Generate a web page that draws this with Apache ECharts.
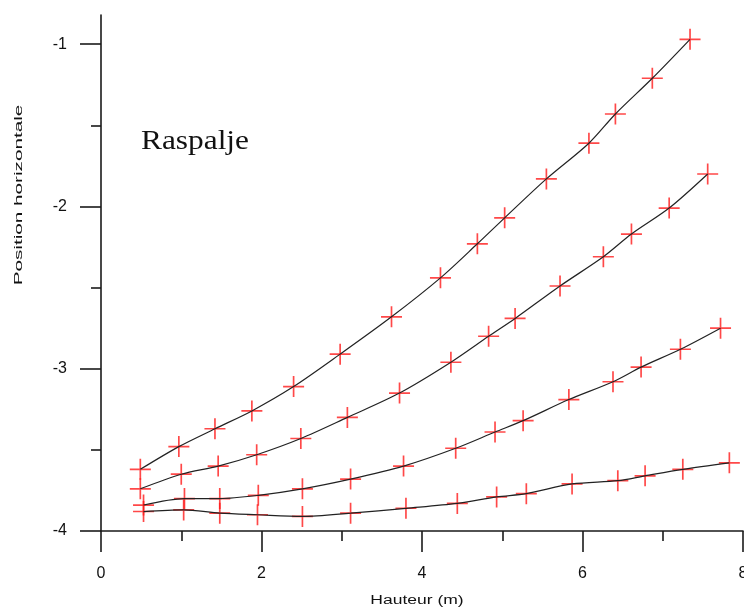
<!DOCTYPE html>
<html>
<head>
<meta charset="utf-8">
<title>Raspalje</title>
<script src="https://cdn.jsdelivr.net/npm/echarts@6/dist/echarts.min.js"></script>
<style>
  html, body { margin: 0; padding: 0; background: #ffffff; }
  #chart { width: 744px; height: 610px; }
</style>
</head>
<body>
<div id="chart"></div>
<script>
// Horizontal position against height (m), four profiles
const hauteurA = [0.49, 0.97, 1.42, 1.88, 2.40, 2.98, 3.62, 4.23, 4.69, 5.03, 5.55, 6.08, 6.41, 6.87, 7.34];
const positionA = [-3.62, -3.48, -3.37, -3.26, -3.11, -2.91, -2.68, -2.44, -2.23, -2.07, -1.83, -1.61, -1.43, -1.21, -0.97];

const hauteurB = [0.49, 1.00, 1.46, 1.94, 2.49, 3.07, 3.72, 4.36, 4.83, 5.16, 5.72, 6.26, 6.61, 7.08, 7.56];
const positionB = [-3.74, -3.65, -3.60, -3.53, -3.43, -3.30, -3.15, -2.96, -2.80, -2.69, -2.49, -2.31, -2.17, -2.01, -1.80];

const hauteurC = [0.53, 1.04, 1.48, 1.96, 2.51, 3.11, 3.77, 4.42, 4.91, 5.26, 5.83, 6.38, 6.73, 7.22, 7.72];
const positionC = [-3.84, -3.80, -3.80, -3.78, -3.74, -3.68, -3.60, -3.49, -3.39, -3.32, -3.19, -3.08, -2.99, -2.88, -2.75];

const hauteurD = [0.53, 1.03, 1.48, 1.95, 2.51, 3.11, 3.80, 4.44, 4.93, 5.30, 5.87, 6.44, 6.78, 7.25, 7.83];
const positionD = [-3.88, -3.87, -3.89, -3.90, -3.91, -3.89, -3.86, -3.83, -3.79, -3.77, -3.71, -3.69, -3.66, -3.62, -3.58];

const yMajorTicks = [-4, -3, -2, -1];
const yMinorTicks = [-3.5, -2.5, -1.5];

const profiles = [
  [hauteurA, positionA],
  [hauteurB, positionB],
  [hauteurC, positionC],
  [hauteurD, positionD]
];

const axisColor = '#1a1a1a';
const markColor = '#ff1a1a';
// "+" cross used as marker
const crossPath = 'path://M9.2 0h1.6v9.2h9.2v1.6h-9.2v9.2h-1.6v-9.2h-9.2v-1.6h9.2z';

const series = [];
profiles.forEach(function (p) {
  const pts = p[0].map(function (x, i) { return [x, p[1][i]]; });
  series.push({
    type: 'scatter',
    data: pts,
    symbol: crossPath,
    symbolSize: 21,
    itemStyle: { color: markColor },
    z: 2,
    silent: true
  });
  series.push({
    type: 'line',
    data: pts,
    smooth: 0.3,
    showSymbol: false,
    lineStyle: { color: '#222', width: 1.2 },
    z: 3,
    clip: false,
    silent: true
  });
});

const chart = echarts.init(document.getElementById('chart'), null, { renderer: 'canvas' });
chart.setOption({
  animation: false,
  backgroundColor: '#ffffff',
  grid: { left: 101, right: 1, top: 15, bottom: 79, containLabel: false, outerBoundsMode: 'none' },
  xAxis: [{
    type: 'value',
    min: 0,
    max: 8,
    interval: 2,
    axisLine: { onZero: false, lineStyle: { color: axisColor, width: 1.6 } },
    axisTick: { length: 21, lineStyle: { color: axisColor, width: 1.6 } },
    minorTick: { show: true, splitNumber: 2, length: 10, lineStyle: { color: axisColor, width: 1.6 } },
    axisLabel: { margin: 35, color: '#111', fontFamily: 'Liberation Sans', fontSize: 16, hideOverlap: false },
    splitLine: { show: false },
    minorSplitLine: { show: false }
  }],
  yAxis: [{
    type: 'value',
    position: 'left',
    min: -4,
    max: -0.82,
    interval: 1,
    axisLine: { onZero: false, lineStyle: { color: axisColor, width: 1.6 } },
    axisTick: { length: 21, customValues: yMajorTicks, lineStyle: { color: axisColor, width: 1.6 } },
    axisLabel: { margin: 34, customValues: yMajorTicks, color: '#111', fontFamily: 'Liberation Sans', fontSize: 16 },
    splitLine: { show: false }
  }, {
    type: 'value',
    position: 'left',
    min: -4,
    max: -0.82,
    interval: 1,
    axisLine: { show: false },
    axisTick: { length: 10, customValues: yMinorTicks, lineStyle: { color: axisColor, width: 1.6 } },
    axisLabel: { show: false },
    splitLine: { show: false }
  }],
  graphic: [{
    type: 'text',
    x: 417,
    y: 601,
    scaleX: 1.4,
    style: {
      text: 'Hauteur (m)',
      fontFamily: 'Liberation Sans',
      fontSize: 12.5,
      fill: '#111',
      align: 'center',
      verticalAlign: 'middle'
    }
  }, {
    type: 'text',
    x: 19,
    y: 195,
    rotation: Math.PI / 2,
    scaleX: 1.8,
    style: {
      text: 'Position horizontale',
      fontFamily: 'Liberation Sans',
      fontSize: 11.5,
      fill: '#111',
      align: 'center',
      verticalAlign: 'middle'
    }
  }, {
    type: 'text',
    x: 141,
    y: 142,
    scaleX: 1.12,
    style: {
      text: 'Raspalje',
      fontFamily: 'Liberation Serif',
      fontSize: 28,
      fill: '#111',
      align: 'left',
      verticalAlign: 'middle'
    }
  }],
  series: series
});
</script>
</body>
</html>
